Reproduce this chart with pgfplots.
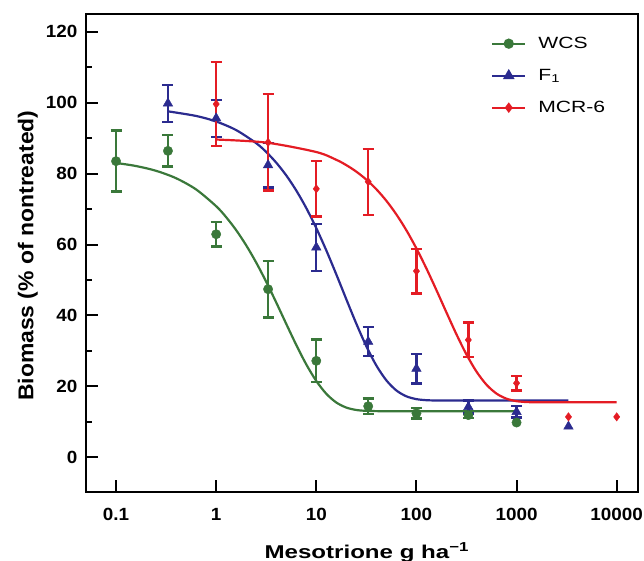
\documentclass[border=0pt]{standalone}
\usepackage{pgfplots}
\pgfplotsset{compat=1.18}
\usepackage{pgfplotstable}
\usepackage{fontspec}
\setmainfont{Liberation Sans}
\newfontfamily\tickfont[FakeStretch=1.07]{Liberation Sans}
\newfontfamily\xlabfont[FakeStretch=1.3]{Liberation Sans}
\newfontfamily\ylabfont[FakeStretch=1.07]{Liberation Sans}
\newfontfamily\legfont[FakeStretch=1.3]{Liberation Sans}

\definecolor{wcs}{RGB}{58,120,58}
\definecolor{fone}{RGB}{43,43,143}
\definecolor{mcr}{RGB}{228,28,36}

% measured points: dose, biomass, error
\pgfplotstableread{
x y e
0.1 83.5 8.6
0.33 86.4 4.4
1 62.9 3.5
3.3 47.4 8.0
10 27.2 6.0
33 14.4 2.2
100 12.4 1.5
330 11.9 0.8
}\wcs
\pgfplotstableread{
x y
1000 9.8
}\wcsnoerr

\pgfplotstableread{
x y e
0.33 99.8 5.2
1 95.6 5.2
3.3 82.4 6.3
10 59.2 6.6
33 32.6 4.1
100 25.0 4.2
330 14.2 1.8
1000 12.8 1.6
}\fone
\pgfplotstableread{
x y
3300 8.7
}\fonenoerr

\pgfplotstableread{
x y e
1 99.6 11.9
3.3 88.8 13.6
10 75.7 7.8
33 77.7 9.3
100 52.5 6.3
330 33.1 4.9
1000 20.9 2.1
}\mcr
\pgfplotstableread{
x y
3300 11.4
10000 11.4
}\mcrnoerr

% fitted curves
\pgfplotstableread{
x y
0.1 83.00
0.1585 82.13
0.2512 80.78
0.3981 78.69
0.631 75.52
1 70.80
1.2589 67.70
1.5849 64.04
1.9953 59.77
2.5119 54.90
3.1623 49.48
3.9811 43.65
5.0119 37.61
6.3096 31.68
7.9433 26.19
10 21.52
12.589 17.91
15.849 15.45
19.953 14.02
25.119 13.34
31.623 13.09
39.811 13.02
50 13.0
200 13.0
1000 13.0
}\wcsfit

\pgfplotstableread{
x y
0.33 97.55
0.631 96.25
1 94.68
1.5849 92.26
2.5119 88.57
3.1623 86.09
3.9811 83.08
5.0119 79.49
6.3096 75.23
7.9433 70.28
10 64.62
12.589 58.34
15.849 51.56
19.953 44.55
25.119 37.66
31.623 31.30
39.811 25.87
50.119 21.69
63.096 18.84
79.433 17.19
100 16.40
125.89 16.10
158.49 16.02
200 16.0
1000 16.0
3300 16.0
}\fonefit

\pgfplotstableread{
x y
1 89.60
3.1623 88.74
10 86.08
15.849 83.88
19.953 82.38
25.119 80.54
31.623 78.29
39.811 75.58
50.119 72.32
63.096 68.47
79.433 64.00
100 58.89
125.89 53.23
158.49 47.13
199.53 40.84
251.19 34.66
316.23 28.98
398.11 24.16
501.19 20.46
630.96 17.96
794.33 16.52
1000 15.83
1258.9 15.58
1584.9 15.51
2000 15.5
10000 15.5
}\mcrfit

\begin{document}
\begin{tikzpicture}
\begin{axis}[
  at={(0,0)}, anchor=south west,
  scale only axis, width=551.8bp, height=477.7bp,
  xmode=log, xmin=0.0507, xmax=16440, ymin=-9.7, ymax=125,
  axis line style={line width=2bp},
  tick style={line width=2bp, black},
  major tick length=12bp, minor tick length=6bp,
  tick pos=left, tick align=inside,
  xtick={0.1,1,10,100,1000,10000},
  xticklabels={0.1,1,10,100,1000,10000},
  xminorticks=false,
  ytick={0,20,...,120}, minor y tick num=1,
  /pgf/number format/assume math mode=true,
  tick label style={font=\fontsize{17.7}{17.7}\tickfont\bfseries},
  xticklabel style={anchor=base, yshift=-28.3bp},
  yticklabel style={anchor=east, inner sep=0pt, xshift=-9bp},
  xlabel={Mesotrione g ha\textsuperscript{−1}},
  ylabel={Biomass (\% of nontreated)},
  label style={inner sep=0pt},
  xlabel style={font=\fontsize{18.6}{18.6}\xlabfont\bfseries, at={(axis description cs:0.508,-0.1388)}, anchor=base},
  ylabel style={font=\fontsize{21.5}{21.5}\ylabfont\bfseries, at={(axis description cs:-0.0964,0.494)}, anchor=base},
  legend cell align=left,
  legend image code/.code={\draw[mark repeat=2,mark phase=2,#1] plot coordinates {(0bp,0bp)(16.5bp,0bp)(33bp,0bp)}; \path (45bp,0bp);},
  legend style={draw=none, fill=none, at={(axis description cs:0.733,0.954)}, anchor=north west,
    font=\fontsize{16.3}{16.3}\legfont, inner sep=0pt, row sep=17bp,
    nodes={inner sep=0pt, text height=12bp, text depth=3bp}},
  error bars/y dir=both, error bars/y explicit,
]
% WCS
\addplot[wcs, line width=2.2bp, smooth, forget plot] table {\wcsfit};
\addplot[wcs, only marks, mark=*, mark size=4.7bp,
  error bars/error bar style={line width=2.4bp, wcs},
  error bars/error mark options={rotate=90, line width=2.4bp, mark size=5.5bp, wcs}, forget plot]
  table[x=x, y=y, y error=e] {\wcs};
\addplot[wcs, only marks, mark=*, mark size=4.7bp, forget plot,
  error bars/y dir=none] table[x=x, y=y] {\wcsnoerr};
% F1
\addplot[fone, line width=2.2bp, smooth, forget plot] table {\fonefit};
\addplot[fone, only marks, mark=triangle*, mark size=5.5bp,
  error bars/error bar style={line width=2.4bp, fone},
  error bars/error mark options={rotate=90, line width=2.4bp, mark size=5.5bp, fone}, forget plot]
  table[x=x, y=y, y error=e] {\fone};
\addplot[fone, only marks, mark=triangle*, mark size=5.5bp, forget plot,
  error bars/y dir=none] table[x=x, y=y] {\fonenoerr};
% MCR-6
\addplot[mcr, line width=2.2bp, smooth, forget plot] table {\mcrfit};
\addplot[mcr, only marks, mark=diamond*, mark size=4.2bp,
  error bars/error bar style={line width=2.4bp, mcr},
  error bars/error mark options={rotate=90, line width=2.4bp, mark size=5.5bp, mcr}, forget plot]
  table[x=x, y=y, y error=e] {\mcr};
\addplot[mcr, only marks, mark=diamond*, mark size=4.2bp, forget plot,
  error bars/y dir=none] table[x=x, y=y] {\mcrnoerr};

\addlegendimage{wcs, line width=2.2bp, mark=*, mark size=4bp}
\addlegendentry{WCS}
\addlegendimage{fone, line width=2.2bp, mark=triangle*, mark size=4.5bp}
\addlegendentry{F\textsubscript{1}}
\addlegendimage{mcr, line width=2.2bp, mark=diamond*, mark size=3.5bp}
\addlegendentry{MCR-6}
\end{axis}
\pgfresetboundingbox
\useasboundingbox (-86.5bp,-69.3bp) rectangle (557.5bp,491.7bp);
\end{tikzpicture}
\end{document}
